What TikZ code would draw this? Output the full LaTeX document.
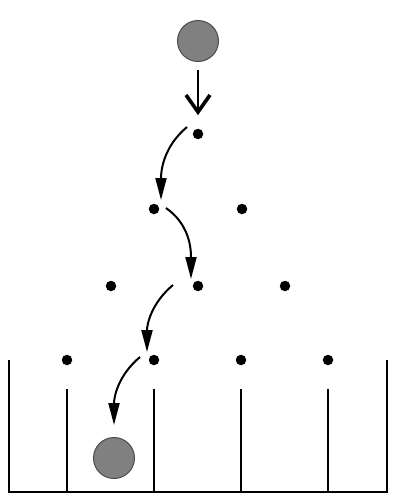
\documentclass[tikz,border=0pt]{standalone}
\usetikzlibrary{arrows.meta}
\begin{document}
\begin{tikzpicture}[x=1pt,y=-1pt,
  peg/.style={circle,fill=black,inner sep=0pt,minimum size=10.5pt},
  ball/.style={circle,fill=black!50,draw=black!70,line width=1pt,inner sep=0pt,minimum size=41pt},
  wall/.style={line width=2.4pt},
  path/.style={line width=2pt,-{Triangle[length=22pt,width=11pt]}},
  barb/.style={line width=3.6pt,line join=miter}]
\useasboundingbox (0,0) rectangle (409,501);
% balls
\node[ball] (top) at (198,41) {};
\node[ball] (bot) at (114,458) {};
% pegs
\node[peg] (p11) at (198,134) {};
\node[peg] (p21) at (154,209) {};
\node[peg] (p22) at (242,209) {};
\node[peg] (p31) at (111,286) {};
\node[peg] (p32) at (198,286) {};
\node[peg] (p33) at (285,286) {};
\node[peg] (p41) at (67,360) {};
\node[peg] (p42) at (154,360) {};
\node[peg] (p43) at (241,360) {};
\node[peg] (p44) at (328,360) {};
% walls
\coordinate (bl) at (9,492);
\coordinate (br) at (387,492);
\draw[wall] (9,360) -- (bl) -- (br) -- (387,360);
\foreach \x in {67,154,241,328} \draw[wall] (\x,389) -- (\x,492);
% drop arrow
\coordinate (d0) at (198,70);
\coordinate (d1) at (198,112);
\draw[line width=1.5pt] (d0) -- (d1);
\draw[barb] ([xshift=-12pt,yshift=17pt]d1) -- (d1) -- ([xshift=12pt,yshift=17pt]d1);
% path arrows
\coordinate (a1s) at (187,127);
\coordinate (a1e) at (161,200);
\coordinate (a2s) at (166,208);
\coordinate (a2e) at (191,279);
\coordinate (a3s) at (173,285);
\coordinate (a3e) at (147,352);
\coordinate (a4s) at (140,357);
\coordinate (a4e) at (114,425);
\draw[path] (a1s) to[out=220,in=90] (a1e);
\draw[path] (a2s) to[out=-35,in=90] (a2e);
\draw[path] (a3s) to[out=220,in=90] (a3e);
\draw[path] (a4s) to[out=220,in=90] (a4e);
\end{tikzpicture}
\end{document}
